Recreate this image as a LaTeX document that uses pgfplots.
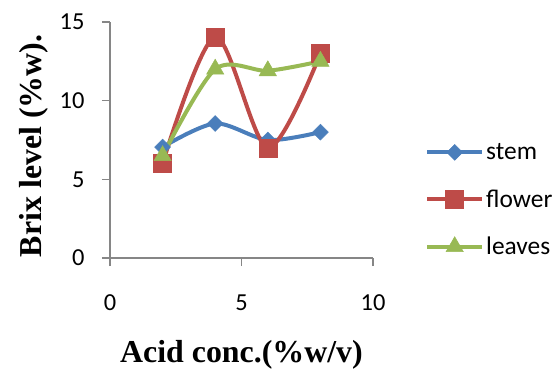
\documentclass[border=0pt]{standalone}
\usepackage{pgfplots}
\pgfplotsset{compat=1.18}
\usepackage{fontspec}
\setmainfont{Carlito}
\newfontfamily\timesfont{Liberation Serif}
\definecolor{sblue}{HTML}{4A7EBB}
\definecolor{sred}{HTML}{BE4B48}
\definecolor{sgreen}{HTML}{98B954}
\definecolor{axgray}{HTML}{868686}
\begin{document}
\begin{tikzpicture}
\begin{axis}[
  scale only axis, width=263bp, height=236bp,
  xmin=0, xmax=10, ymin=0, ymax=15,
  xtick={0,5,10}, ytick={0,5,10,15},
  axis x line*=bottom, axis y line*=left,
  axis line style={draw=axgray, line width=1.2bp},
  tick style={draw=axgray, line width=1.2bp},
  tick align=outside, major tick length=8bp,
  tick label style={font=\fontsize{24.5}{28}\selectfont},
  yticklabel style={xshift=-14bp},
  xticklabel style={yshift=-25bp},
  /pgf/number format/assume math mode=true,
  xlabel={Acid conc.(\%w/v)}, ylabel={Brix level (\%w).},
  label style={font=\timesfont\bfseries\fontsize{32}{36}\selectfont},
  xlabel style={at={(axis description cs:0.5,0)}, anchor=base, yshift=-104bp},
  ylabel style={at={(axis description cs:0,0.475)}, anchor=base, yshift=68bp},
  clip=false,
  legend style={draw=none, fill=none, at={(1,0.246)}, anchor=west, xshift=52bp,
    font=\fontsize{25.5}{28}\selectfont, row sep=24.5bp, inner sep=0pt,
    nodes={inner sep=2bp}},
  legend cell align=left,
  legend image code/.code={\draw[mark repeat=2,mark phase=2,#1] plot coordinates {(0bp,0bp)(27.5bp,0bp)(55bp,0bp)};},
  every axis plot/.append style={line width=4bp, smooth, tension=0.5},
]
\addplot[color=sblue, mark=square*, mark size=5.6bp, mark options={rotate=45, fill=sblue, draw=sblue, line width=0.5bp}]
  coordinates {(2,7.05)(4,8.55)(6,7.5)(8,8)};
\addlegendentry{stem}
\addplot[color=sred, mark=square*, mark size=9bp, mark options={fill=sred, draw=sred, line width=0.5bp}]
  coordinates {(2,6)(4,14.05)(6,7)(8,13)};
\addlegendentry{flower}
\addplot[color=sgreen, mark=triangle*, mark size=10bp, mark options={fill=sgreen, draw=sgreen, line width=0.5bp}]
  coordinates {(2,6.5)(4,12)(6,11.9)(8,12.5)};
\addlegendentry{leaves}
\end{axis}
\pgfresetboundingbox
\path[use as bounding box] ([shift={(-110bp,-114bp)}]current axis.south west) rectangle ++(558bp,372bp);
\end{tikzpicture}
\end{document}
